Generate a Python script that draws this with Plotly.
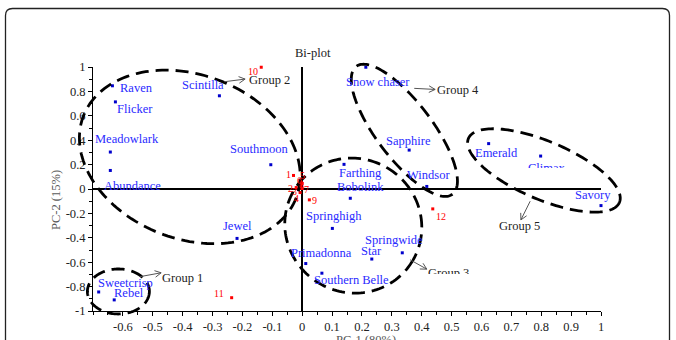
import numpy as np
import plotly.graph_objects as go

# ---------------- data ----------------
varieties = ["Raven", "Flicker", "Meadowlark", "Abundance", "Scintilla", "Southmoon", "Jewel",
             "Sweetcrisp", "Rebel", "Primadonna", "Southern Belle", "Springhigh", "Farthing",
             "Bobolink", "Snow chaser", "Sapphire", "Windsor", "Emerald", "Climax", "Savory",
             "Springwide", "Star"]
var_pc1 = [-0.635, -0.625, -0.642, -0.642, -0.277, -0.105, -0.218, -0.681, -0.629, 0.012, 0.066,
           0.101, 0.140, 0.161, 0.213, 0.358, 0.417, 0.624, 0.798, 1.0, 0.335, 0.233]
var_pc2 = [0.846, 0.714, 0.303, 0.152, 0.764, 0.199, -0.405, -0.844, -0.909, -0.611, -0.690,
           -0.323, 0.202, -0.076, 0.998, 0.319, 0.021, 0.372, 0.270, -0.136, -0.523, -0.574]

trait_ids = ["1", "2", "3", "4", "5", "6", "7", "8", "9", "10", "11", "12"]
trait_pc1 = [-0.029, -0.020, -0.010, -0.007, -0.007, 0.0, 0.0, -0.004, 0.024, -0.137, -0.236, 0.437]
trait_pc2 = [0.111, 0.012, 0.004, -0.029, 0.070, 0.045, 0.004, 0.029, -0.089, 0.998, -0.891, -0.163]

group_names = ["Group 1", "Group 2", "Group 3", "Group 4", "Group 5"]

x_tick_vals = [-0.6, -0.5, -0.4, -0.3, -0.2, -0.1, 0, 0.1, 0.2, 0.3, 0.4, 0.5, 0.6, 0.7, 0.8, 0.9, 1.0]
x_tick_text = ["-0.6", "-0.5", "-0.4", "-0.3", "-0.2", "-0.1", "0", "0.1", "0.2", "0.3", "0.4",
               "0.5", "0.6", "0.7", "0.8", "0.9", "1"]
y_tick_vals = [-1, -0.8, -0.6, -0.4, -0.2, 0, 0.2, 0.4, 0.6, 0.8, 1]
y_tick_text = ["-1", "-0.8", "-0.6", "-0.4", "-0.2", "0", "0.2", "0.4", "0.6", "0.8", "1"]

# ---------------- layout constants ----------------
W, H = 676, 340
ML, MT = 93, 67
PW, PH = 508, 244
MR = W - ML - PW
MB = H - MT - PH
XR = [-0.7, 1.0]
YR = [-1.0, 1.0]
SX = PW / (XR[1] - XR[0])
SY = PH / (YR[1] - YR[0])

FONT = "Liberation Serif"
BLUE_TXT = "#2a2aff"
BLUE_PT = "#0000cc"
RED = "#ff0000"


def pxx(px):  # page pixel -> paper x
    return (px - ML) / PW


def pxy(py):  # page pixel -> paper y
    return (H - MB - py) / PH


def dx2p(x):  # data x -> paper x
    return (x - XR[0]) / (XR[1] - XR[0])


def dy2p(y):  # data y -> paper y
    return (y - YR[0]) / (YR[1] - YR[0])


# label offsets (pixels, screen-down positive)
var_label_off = [(24.5, 2.3), (19.5, 7.3), (17, -12.7), (22.5, 15.7), (-16.3, -10.4), (-11.4, -15.3),
                 (0.8, -12.4), (27, -9), (14.8, -7.3), (16, -10.4), (29.3, 7), (1.7, -12.7),
                 (16.5, 8.7), (10, -11), (11.8, 14.7), (-0.3, -8.7), (2.1, -11.3), (7.8, 9.4),
                 (6.5, 11.5), (-8.4, -10.3), (-8.6, -13.3), (-0.4, -8)]
trait_label_off = [(-5, -1), (-5.3, 1.3), (-4.7, 3), (-3.3, 6.3), (2, -5), (-3, -3), (4, 1.3),
                   (1, -1), (5, 1), (-8.5, 4.4), (-12.3, -4), (8.3, 7.7)]

# ellipse specs: group, centre (data), semi-axes (px), angle (deg, clockwise on screen)
ellipses = [
    ("Group 1", -0.615, -0.840, 31, 22.5, 0),
    ("Group 2", -0.376, 0.263, 114, 82, 21),
    ("Group 3", 0.171, -0.300, 69, 67, 30),
    ("Group 4", 0.342, 0.481, 80, 28, 53),
    ("Group 5", 0.809, 0.152, 82, 29, 23),
]
# group arrows: tail (data), head (data), text centre (data)
group_arrows = [
    ((-0.542, -0.718), (-0.472, -0.687), (-0.399, -0.726)),
    ((-0.261, 0.879), (-0.191, 0.901), (-0.110, 0.893)),
    ((0.361, -0.580), (0.417, -0.657), (0.488, -0.683)),
    ((0.375, 0.825), (0.445, 0.816), (0.520, 0.811)),
    ((0.763, -0.100), (0.732, -0.253), (0.728, -0.300)),
]


def ellipse_path(cx, cy, a, b, ang, n=160):
    # built in paper coordinates so it is not clipped at the plot edge
    t = np.linspace(0, 2 * np.pi, n)
    th = np.radians(ang)
    dx = a * np.cos(t) * np.cos(th) - b * np.sin(t) * np.sin(th)
    dy = a * np.cos(t) * np.sin(th) + b * np.sin(t) * np.cos(th)
    xs = dx2p(cx) + dx / PW
    ys = dy2p(cy) - dy / PH
    pts = [f"{x:.5f},{y:.5f}" for x, y in zip(xs, ys)]
    return "M " + " L ".join(pts) + " Z"


def arrow_path(tail, head, wing=7, spread=28):
    tx, ty = tail
    hx, hy = head
    vx = (hx - tx) * SX
    vy = -(hy - ty) * SY
    ang = np.arctan2(vy, vx)
    parts = [f"M {tx},{ty} L {hx},{hy}"]
    for s in (+1, -1):
        a = ang + np.pi + s * np.radians(spread)
        wx = hx + wing * np.cos(a) / SX
        wy = hy - wing * np.sin(a) / SY
        parts.append(f"M {wx:.5f},{wy:.5f} L {hx},{hy}")
    return " ".join(parts)


fig = go.Figure()

fig.add_trace(go.Scatter(x=var_pc1, y=var_pc2, mode="markers", text=varieties,
                         marker=dict(symbol="square", size=3, color=BLUE_PT, line=dict(width=0)),
                         hoverinfo="text", showlegend=False, cliponaxis=False))
fig.add_trace(go.Scatter(x=trait_pc1, y=trait_pc2, mode="markers", text=trait_ids,
                         marker=dict(symbol="square", size=3, color=RED, line=dict(width=0)),
                         hoverinfo="text", showlegend=False, cliponaxis=False))

shapes = []
for g, cx, cy, a, b, ang in ellipses:
    shapes.append(dict(type="path", xref="paper", yref="paper", path=ellipse_path(cx, cy, a, b, ang),
                       line=dict(color="black", width=2.8, dash="13px,7px"), layer="above"))
for tail, head, _ in group_arrows:
    shapes.append(dict(type="path", xref="x", yref="y", path=arrow_path(tail, head),
                       line=dict(color="#555555", width=1), layer="above"))

# outer rounded frame (page pixel coordinates converted to paper)
fl, ft, fr, fb, rad = 5.5, 8.5, 669.5, 345, 7
frame = (f"M {pxx(fl)},{pxy(fb)} L {pxx(fl)},{pxy(ft + rad)} "
         f"Q {pxx(fl)},{pxy(ft)} {pxx(fl + rad)},{pxy(ft)} "
         f"L {pxx(fr - rad)},{pxy(ft)} Q {pxx(fr)},{pxy(ft)} {pxx(fr)},{pxy(ft + rad)} "
         f"L {pxx(fr)},{pxy(fb)}")
shapes.append(dict(type="path", xref="paper", yref="paper", path=frame,
                   line=dict(color="#222222", width=1.3)))

annotations = []
for name, x, y, (dx, dy) in zip(varieties, var_pc1, var_pc2, var_label_off):
    if name == "Climax":
        annotations.append(dict(x=x, y=y, xref="x", yref="y", text=name, showarrow=False,
                                xanchor="center", yanchor="top", xshift=dx, yshift=-4,
                                height=7, valign="top", borderpad=0,
                                font=dict(family=FONT, size=12.5, color=BLUE_TXT)))
        continue
    annotations.append(dict(x=x, y=y, xref="x", yref="y", text=name, showarrow=False,
                            xanchor="center", yanchor="middle", xshift=dx, yshift=-dy,
                            font=dict(family=FONT, size=12.5, color=BLUE_TXT)))
for tid, x, y, (dx, dy) in zip(trait_ids, trait_pc1, trait_pc2, trait_label_off):
    annotations.append(dict(x=x, y=y, xref="x", yref="y", text=tid, showarrow=False,
                            xanchor="center", yanchor="middle", xshift=dx, yshift=-dy,
                            font=dict(family=FONT, size=10, color=RED)))
for g, (tail, head, (tx, ty)) in zip(group_names, group_arrows):
    if g == "Group 3":
        annotations.append(dict(x=head[0], y=head[1], xref="x", yref="y", text=g, showarrow=False,
                                xanchor="left", yanchor="top", xshift=0, yshift=4,
                                height=8, valign="top", borderpad=0,
                                font=dict(family=FONT, size=12.5, color="#222222")))
        continue
    annotations.append(dict(x=tx, y=ty, xref="x", yref="y", text=g, showarrow=False,
                            xanchor="center", yanchor="middle",
                            font=dict(family=FONT, size=12.5, color="#222222")))

annotations.append(dict(x=pxx(312.7), y=pxy(53), xref="paper", yref="paper", text="Bi-plot",
                        showarrow=False, xanchor="center", yanchor="middle",
                        font=dict(family=FONT, size=12.5, color="#222222")))
annotations.append(dict(x=pxx(56), y=pxy(200), xref="paper", yref="paper", text="PC-2 (15%)",
                        showarrow=False, textangle=-90, xanchor="center", yanchor="middle",
                        font=dict(family=FONT, size=12.5, color="#595959")))
annotations.append(dict(x=pxx(366), y=pxy(331), xref="paper", yref="paper", text="PC-1 (80%)",
                        showarrow=False, xanchor="center", yanchor="top",
                        font=dict(family=FONT, size=12.5, color="#595959")))

axis_common = dict(showgrid=False, zeroline=True, zerolinecolor="black", zerolinewidth=1.6,
                   showline=True, linecolor="black", linewidth=1, ticks="outside", ticklen=4,
                   tickcolor="black", tickwidth=1, tickmode="array", automargin=False,
                   tickfont=dict(family=FONT, size=12.5, color="#222222"))

fig.update_layout(
    width=W, height=H, autosize=False,
    margin=dict(l=ML, r=MR, t=MT, b=MB, pad=0, autoexpand=False),
    paper_bgcolor="white", plot_bgcolor="white",
    xaxis=dict(range=XR, tickvals=x_tick_vals, ticktext=x_tick_text,
               minor=dict(tickmode="linear", tick0=0, dtick=0.05, ticks="outside", ticklen=3,
                          tickcolor="black"),
               **axis_common),
    yaxis=dict(range=YR, tickvals=y_tick_vals, ticktext=y_tick_text,
               minor=dict(tickmode="linear", tick0=0, dtick=0.1, ticks="outside", ticklen=3,
                          tickcolor="black"),
               **axis_common),
    shapes=shapes, annotations=annotations, showlegend=False,
)

fig.write_html("out.html", config={"displayModeBar": False},
               post_script="document.body.style.margin='0';document.body.style.overflow='hidden';")
